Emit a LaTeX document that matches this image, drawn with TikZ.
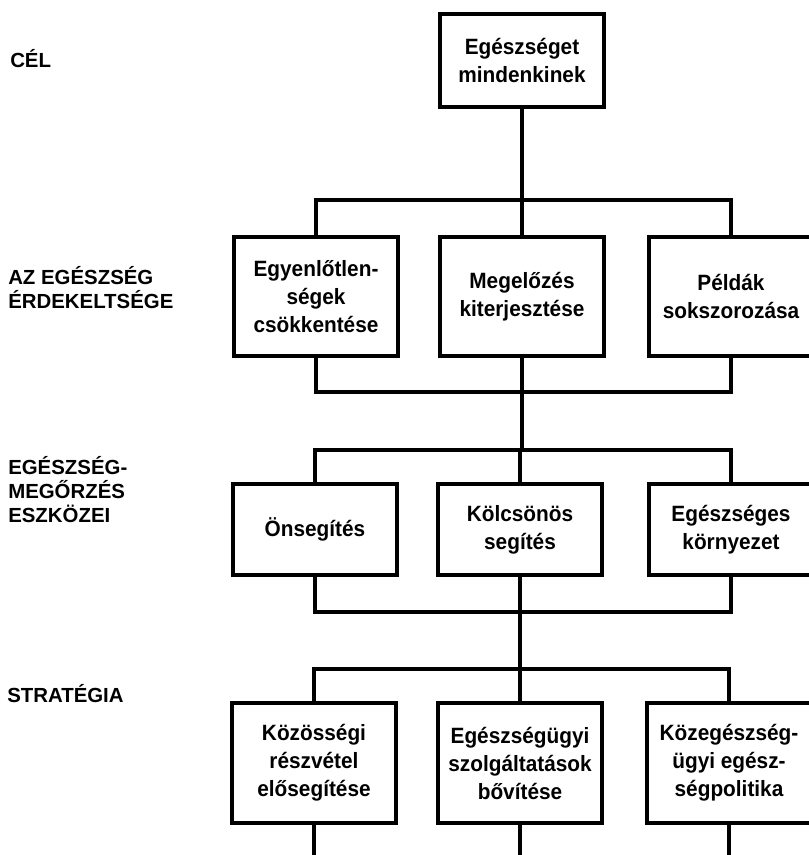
\documentclass[tikz,border=0pt]{standalone}
\usepackage{fontspec}
\setmainfont{Liberation Sans}
\newfontfamily\boxfont[FakeStretch=0.94]{Liberation Sans}
\usetikzlibrary{positioning}

\begin{document}
\begin{tikzpicture}[x=0.75pt, y=-0.75pt,
  box/.style={draw, line width=2.6pt, minimum width=123pt, inner sep=0pt,
    align=center, font=\boxfont\bfseries\fontsize{16.6}{21}\selectfont},
  level/.style={anchor=base west, inner sep=0pt, align=left,
    font=\bfseries\fontsize{15.3}{18}\selectfont},
  link/.style={line width=2.6pt}]
\useasboundingbox (0,0) rectangle (808,855);

% --- Left column: levels ---
\node[level] (lgoal) at (10,68) {CÉL};
\node[level] (linterest) at (8,308) {AZ EGÉSZSÉG\\ÉRDEKELTSÉGE};
\node[level] (lmeans) at (8,522) {EGÉSZSÉG-\\MEGŐRZÉS\\ESZKÖZEI};
\node[level] (lstrategy) at (7,702) {STRATÉGIA};

% --- Goal ---
\node[box, minimum height=70pt] (goal) at (522,60.5) {Egészséget\\mindenkinek};

% --- Interests ---
\node[box, minimum height=89pt] (inequal) at (316,296.5) {Egyenlőtlen-\\ségek\\csökkentése};
\node[box, minimum height=89pt] (prevent) at (522,296.5) {Megelőzés\\kiterjesztése};
\node[box, minimum height=89pt] (examples) at (731,296.5) {Példák\\sokszorozása};

% --- Means ---
\node[box, minimum height=68pt] (selfhelp) at (315,529.5) {Önsegítés};
\node[box, minimum height=68pt] (mutual) at (520,529.5) {Kölcsönös\\segítés};
\node[box, minimum height=68pt] (environ) at (731,529.5) {Egészséges\\környezet};

% --- Strategy ---
\node[box, minimum height=90pt] (community) at (314,763) {Közösségi\\részvétel\\elősegítése};
\node[box, minimum height=90pt] (services) at (520,763) {Egészségügyi\\szolgáltatások\\bővítése};
\node[box, minimum height=90pt] (policy) at (729,763) {Közegészség-\\ügyi egész-\\ségpolitika};

% bar heights
\coordinate (bar1) at (0,200);
\coordinate (bar2) at (0,392);
\coordinate (bar3) at (0,450);
\coordinate (bar4) at (0,612);
\coordinate (bar5) at (0,669);
\coordinate (bottom) at (0,860);

% --- Connectors ---
\draw[link] (goal.south) -- (goal.south |- bar1);
\draw[link] (inequal.north) |- (examples.north |- bar1) -- (examples.north);
\draw[link] (prevent.north) -- (prevent.north |- bar1);

\draw[link] (inequal.south) |- (examples.south |- bar2) -- (examples.south);
\draw[link] (prevent.south) -- (prevent.south |- bar3);
\draw[link] (selfhelp.north) |- (environ.north |- bar3) -- (environ.north);
\draw[link] (mutual.north) -- (mutual.north |- bar3);

\draw[link] (selfhelp.south) |- (environ.south |- bar4) -- (environ.south);
\draw[link] (mutual.south) -- (mutual.south |- bar5);
\draw[link] (community.north) |- (policy.north |- bar5) -- (policy.north);
\draw[link] (services.north) -- (services.north |- bar5);

\draw[link] (community.south) -- (community.south |- bottom);
\draw[link] (services.south) -- (services.south |- bottom);
\draw[link] (policy.south) -- (policy.south |- bottom);
\end{tikzpicture}
\end{document}
